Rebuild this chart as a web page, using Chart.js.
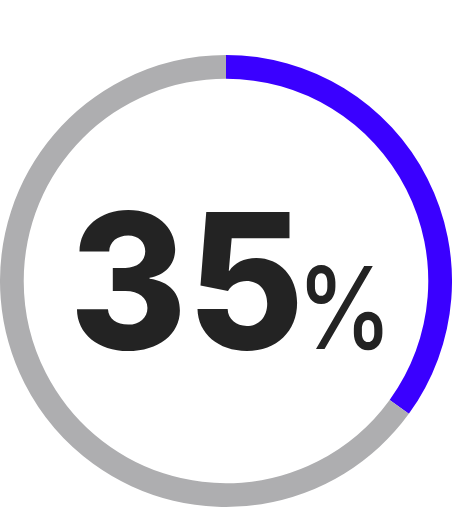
<!DOCTYPE html>
<html>
<head>
<meta charset="utf-8">
<script src="https://cdn.jsdelivr.net/npm/chart.js@4"></script>
<style>
  html, body { margin: 0; padding: 0; background: #ffffff; }
  #wrap { width: 452px; height: 526px; position: relative; }
</style>
</head>
<body>
<div id="wrap"><canvas id="c"></canvas></div>
<script>
const categories = ['Achieved', 'Remaining'];
const seriesValues = [35, 65];
const seriesColors = ['#3a00ff', '#aeaeb0'];
const centerValue = '35';
const centerUnit = '%';

function drawInk(ctx, text, font, leftInk, inkWidth, baseY) {
  ctx.font = font;
  const m = ctx.measureText(text);
  const natural = m.actualBoundingBoxLeft + m.actualBoundingBoxRight;
  const sx = inkWidth / natural;
  ctx.save();
  ctx.translate(leftInk, baseY);
  ctx.scale(sx, 1);
  ctx.textAlign = 'left';
  ctx.textBaseline = 'alphabetic';
  ctx.fillText(text, m.actualBoundingBoxLeft, 0);
  ctx.restore();
}

const centerText = {
  id: 'centerText',
  afterDraw(chart) {
    const meta = chart.getDatasetMeta(0);
    if (!meta.data.length) return;
    const arc = meta.data[0];
    const cx = arc.x, cy = arc.y;
    const ctx = chart.ctx;
    ctx.save();
    ctx.fillStyle = '#232323';
    const baseY = cy + 68;
    drawInk(ctx, centerValue, '800 188px Inter', cx - 149, 221, baseY);
    drawInk(ctx, centerUnit, '500 114px Inter', cx + 80, 77, baseY);
    ctx.restore();
  }
};

new Chart(document.getElementById('c'), {
  type: 'doughnut',
  data: {
    labels: categories,
    datasets: [{
      data: seriesValues,
      backgroundColor: seriesColors,
      borderWidth: 0,
      hoverOffset: 0
    }]
  },
  options: {
    responsive: true,
    maintainAspectRatio: false,
    animation: false,
    cutout: '89.5%',
    layout: { padding: { top: 36, left: 0, right: 0, bottom: 0 } },
    plugins: {
      legend: { display: false },
      tooltip: { enabled: false }
    }
  },
  plugins: [centerText]
});
</script>
</body>
</html>
